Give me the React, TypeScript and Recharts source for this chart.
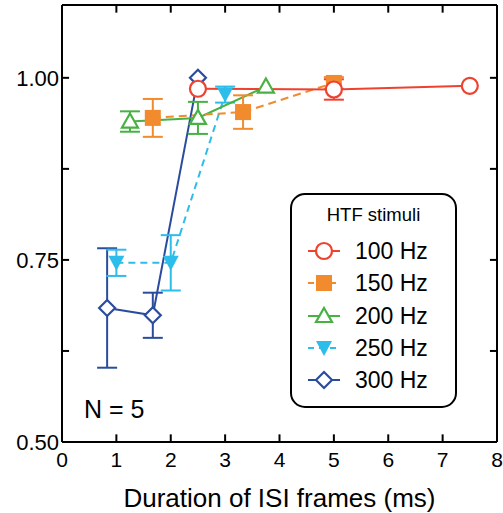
import { ComposedChart, Line, XAxis, YAxis, ErrorBar, ReferenceLine } from "recharts";

const xTicks = [0, 1, 2, 3, 4, 5, 6, 7, 8];
const innerXTicks = [1, 2, 3, 4, 5, 6, 7];
const yTicks = [0.5, 0.625, 0.75, 0.875, 1.0];
const innerYTicks = [0.625, 0.75, 0.875, 1.0];
const yLabels = [0.5, 0.75, 1.0];

const hz100X = [2.5, 5, 7.5];
const hz100Y = [0.985, 0.984, 0.989];
const hz100Err = [0, 0.014, 0];

const hz150X = [1.67, 3.33, 5];
const hz150Y = [0.945, 0.953, 0.993];
const hz150Err = [0.026, 0.023, 0.008];

const hz200X = [1.25, 2.5, 3.75];
const hz200Y = [0.94, 0.945, 0.988];
const hz200Err = [0.014, 0.022, 0];

const hz250X = [1, 2, 3];
const hz250Y = [0.746, 0.746, 0.977];
const hz250Err = [0.018, 0.038, 0.011];

const hz300X = [0.83, 1.67, 2.5];
const hz300Y = [0.684, 0.674, 1.0];
const hz300Err = [0.082, 0.031, 0];

const FONT = '"Liberation Sans", Arial, Helvetica, sans-serif';
const X_MIN = 0;
const X_MAX = 8;
const Y_MIN = 0.5;
const Y_MAX = 1.1;
// inward tick lengths, in data units (about 7-8 px)
const TICK_DX = 0.13;
const TICK_DY = 0.0105;

type Marker = "circle" | "square" | "triUp" | "triDown" | "diamond";

const zip = (xs: number[], ys: number[], es: number[]) =>
  xs.map((x, i) => ({ x, y: ys[i], err: es[i] }));

const series = [
  { name: "300 Hz", color: "#2B4C9E", dash: undefined, marker: "diamond" as Marker, data: zip(hz300X, hz300Y, hz300Err) },
  { name: "250 Hz", color: "#2DBDEA", dash: "7 5", marker: "triDown" as Marker, data: zip(hz250X, hz250Y, hz250Err) },
  { name: "200 Hz", color: "#47B243", dash: undefined, marker: "triUp" as Marker, data: zip(hz200X, hz200Y, hz200Err) },
  { name: "150 Hz", color: "#F28A2E", dash: "8 5", marker: "square" as Marker, data: zip(hz150X, hz150Y, hz150Err) },
  { name: "100 Hz", color: "#EE4230", dash: undefined, marker: "circle" as Marker, data: zip(hz100X, hz100Y, hz100Err) },
];

const legendOrder = ["100 Hz", "150 Hz", "200 Hz", "250 Hz", "300 Hz"];

function MarkerShape({ type, cx, cy, color }: { type: Marker; cx: number; cy: number; color: string }) {
  const s = 8;
  switch (type) {
    case "circle":
      return <circle cx={cx} cy={cy} r={8} fill="#fff" stroke={color} strokeWidth={2.2} />;
    case "square":
      return <rect x={cx - s} y={cy - s} width={2 * s} height={2 * s} fill={color} />;
    case "triUp":
      return (
        <polygon
          points={`${cx},${cy - 8} ${cx + 8},${cy + 6} ${cx - 8},${cy + 6}`}
          fill="#fff"
          stroke={color}
          strokeWidth={2.2}
        />
      );
    case "triDown":
      return (
        <polygon points={`${cx - 8},${cy - 7} ${cx + 8},${cy - 7} ${cx},${cy + 8}`} fill={color} />
      );
    case "diamond":
      return (
        <polygon
          points={`${cx},${cy - 8} ${cx + 8},${cy} ${cx},${cy + 8} ${cx - 8},${cy}`}
          fill="#fff"
          stroke={color}
          strokeWidth={2.2}
        />
      );
  }
}

const BottomTick = (props: any) => {
  const { x, y, payload } = props;
  return (
    <text x={x} y={y} dy="0.71em" textAnchor="middle" fontSize={21} fontFamily={FONT} fill="#000">
      {payload.value}
    </text>
  );
};

const LeftTick = (props: any) => {
  const { x, y, payload } = props;
  if (!yLabels.includes(payload.value)) return <g />;
  return (
    <text x={x} y={y} dy="0.36em" textAnchor="end" fontSize={22} fontFamily={FONT} fill="#000">
      {payload.value.toFixed(2)}
    </text>
  );
};

function LegendBox() {
  return (
    <div
      style={{
        position: "absolute",
        left: 290,
        top: 193,
        width: 163,
        height: 211,
        border: "2px solid #000",
        borderRadius: 15,
        background: "#fff",
        fontFamily: FONT,
      }}
    >
      <div style={{ position: "absolute", top: 9, width: "100%", textAlign: "center", fontSize: 18.5 }}>
        HTF stimuli
      </div>
      {legendOrder.map((name, i) => {
        const s = series.find((d) => d.name === name)!;
        return (
          <div key={name} style={{ position: "absolute", left: 0, top: 41 + i * 32.3, height: 30, width: "100%" }}>
            <svg width={60} height={30} style={{ position: "absolute", left: 0, top: 0 }}>
              <line x1={16} y1={15} x2={48} y2={15} stroke={s.color} strokeWidth={2} strokeDasharray={s.dash ? "6 5" : undefined} />
              <MarkerShape type={s.marker} cx={32} cy={15} color={s.color} />
            </svg>
            <span style={{ position: "absolute", left: 63, top: 1, fontSize: 23, lineHeight: "28px" }}>{name}</span>
          </div>
        );
      })}
    </div>
  );
}

const tickLine = { stroke: "#000", strokeWidth: 2, ifOverflow: "visible" as const };

export default function App() {
  return (
    <div style={{ position: "absolute", left: 0, top: 0, width: 503, height: 513, background: "#fff" }}>
      <ComposedChart width={503} height={513} margin={{ top: 4, right: 5, left: 0, bottom: 0 }}>
        <XAxis
          type="number"
          dataKey="x"
          domain={[X_MIN, X_MAX]}
          ticks={xTicks}
          interval={0}
          tickSize={0}
          tickMargin={10}
          height={71}
          axisLine={{ stroke: "#000", strokeWidth: 2 }}
          tickLine={false}
          tick={BottomTick}
          allowDuplicatedCategory={false}
          label={{ value: "Duration of ISI frames (ms)", position: "insideBottom", offset: 6, fontSize: 26, fill: "#000", fontFamily: FONT }}
        />
        <XAxis
          xAxisId="top"
          orientation="top"
          type="number"
          domain={[X_MIN, X_MAX]}
          height={1}
          axisLine={{ stroke: "#000", strokeWidth: 2 }}
          tickLine={false}
          tick={false}
        />
        <YAxis
          type="number"
          domain={[Y_MIN, Y_MAX]}
          ticks={yTicks}
          interval={0}
          width={62}
          tickSize={0}
          tickMargin={3}
          axisLine={{ stroke: "#000", strokeWidth: 2 }}
          tickLine={false}
          tick={LeftTick}
        />
        <YAxis
          yAxisId="right"
          orientation="right"
          type="number"
          domain={[Y_MIN, Y_MAX]}
          width={1}
          axisLine={{ stroke: "#000", strokeWidth: 2 }}
          tickLine={false}
          tick={false}
        />
        {innerXTicks.map((t) => (
          <ReferenceLine key={`b${t}`} segment={[{ x: t, y: Y_MIN }, { x: t, y: Y_MIN + TICK_DY }]} {...tickLine} />
        ))}
        {innerXTicks.map((t) => (
          <ReferenceLine key={`t${t}`} segment={[{ x: t, y: Y_MAX }, { x: t, y: Y_MAX - TICK_DY }]} {...tickLine} />
        ))}
        {innerYTicks.map((t) => (
          <ReferenceLine key={`l${t}`} segment={[{ x: X_MIN, y: t }, { x: X_MIN + TICK_DX, y: t }]} {...tickLine} />
        ))}
        {innerYTicks.map((t) => (
          <ReferenceLine key={`r${t}`} segment={[{ x: X_MAX, y: t }, { x: X_MAX - TICK_DX, y: t }]} {...tickLine} />
        ))}
        {series.map((s) => (
          <Line
            key={s.name}
            data={s.data}
            dataKey="y"
            type="linear"
            stroke={s.color}
            strokeWidth={2}
            strokeDasharray={s.dash}
            isAnimationActive={false}
            dot={(p: any) => <MarkerShape key={`${s.name}-${p.index}`} type={s.marker} cx={p.cx} cy={p.cy} color={s.color} />}
            activeDot={false}
          >
            <ErrorBar dataKey="err" direction="y" width={10} stroke={s.color} strokeWidth={2} isAnimationActive={false} />
          </Line>
        ))}
      </ComposedChart>
      <LegendBox />
      <div style={{ position: "absolute", left: 84, top: 395, fontSize: 25, fontFamily: FONT }}>N = 5</div>
    </div>
  );
}
